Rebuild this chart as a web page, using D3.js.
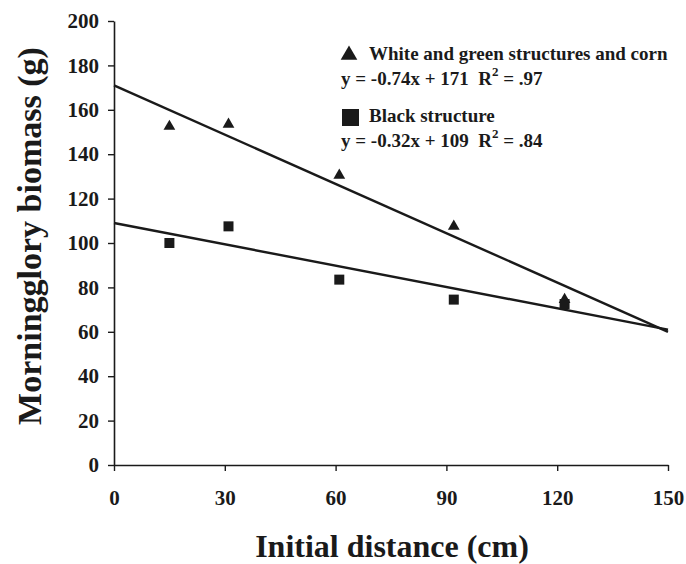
<!DOCTYPE html>
<html>
<head>
<meta charset="utf-8">
<script src="https://cdn.jsdelivr.net/npm/d3@7"></script>
<style>
  body { margin: 0; background: #fff; }
  svg text { font-family: "Liberation Serif", "Times New Roman", serif; font-weight: bold; fill: #1a1a1a; white-space: pre; }
</style>
</head>
<body>
<div id="chart-area"></div>
<script>
// data
var distances = [15, 31, 61, 92, 122];
var whiteGreen = [152.5, 153.5, 130.5, 107.5, 74.5];
var black = [100, 107.5, 83.5, 74.5, 72.5];
var xTicks = [0, 30, 60, 90, 120, 150];
var yTicks = [0, 20, 40, 60, 80, 100, 120, 140, 160, 180, 200];
// fitted lines: slope, intercept
var fitWhite = [-0.74, 171];
var fitBlack = [-0.32, 109];
var legendLabels = ['White and green structures and corn', 'Black structure'];
var legendEq = ['y = -0.74x + 171  R', 'y = -0.32x + 109  R'];
var legendR2 = [' = .97', ' = .84'];

var width = 686, height = 564;
var ink = '#1a1a1a';

var svg = d3.select('#chart-area').append('svg')
  .attr('width', width)
  .attr('height', height);

var x = d3.scaleLinear().domain([0, 150]).range([114, 668]);
var y = d3.scaleLinear().domain([0, 200]).range([465, 21]);

// axes
var xAxis = svg.append('g')
  .attr('transform', 'translate(0,' + y(0) + ')')
  .call(d3.axisBottom(x).tickValues(xTicks).tickSize(6).tickSizeOuter(0).tickPadding(19));
var yAxis = svg.append('g')
  .attr('transform', 'translate(' + x(0) + ',0)')
  .call(d3.axisLeft(y).tickValues(yTicks).tickSize(6).tickSizeOuter(0).tickPadding(9));

[xAxis, yAxis].forEach(a => {
  a.select('.domain').attr('stroke', ink).attr('stroke-width', 1.6);
  a.selectAll('.tick line').attr('stroke', ink).attr('stroke-width', 1.4);
  a.selectAll('.tick text').attr('fill', ink).style('font-size', '21px');
});

// axis titles
svg.append('text')
  .attr('x', 392).attr('y', 557)
  .attr('text-anchor', 'middle')
  .style('font-size', '32px')
  .text('Initial distance (cm)');
svg.append('text')
  .attr('transform', 'translate(41,236) rotate(-90)')
  .attr('text-anchor', 'middle')
  .style('font-size', '34px')
  .text('Morningglory biomass (g)');

// regression lines
var line = d3.line().x(d => x(d[0])).y(d => y(d[1]));
[fitWhite, fitBlack].forEach(f => {
  svg.append('path')
    .attr('fill', 'none')
    .attr('stroke', ink)
    .attr('stroke-width', 2.4)
    .attr('d', line([[0, f[1]], [150, f[0] * 150 + f[1]]]));
});

// points
var tri = d3.symbol().type(d3.symbolTriangle).size(60);
svg.selectAll('rect.pt')
  .data(distances)
  .join('rect')
  .attr('class', 'pt')
  .attr('x', (d, i) => x(d) - 5)
  .attr('y', (d, i) => y(black[i]) - 5)
  .attr('width', 10).attr('height', 10)
  .attr('fill', ink);
svg.selectAll('path.tri')
  .data(distances)
  .join('path')
  .attr('class', 'tri')
  .attr('transform', (d, i) => 'translate(' + x(d) + ',' + y(whiteGreen[i]) + ')')
  .attr('d', tri)
  .attr('fill', ink);

// legend
var leg = svg.append('g');
leg.append('path')
  .attr('transform', 'translate(349,55)')
  .attr('d', d3.symbol().type(d3.symbolTriangle).size(120))
  .attr('fill', ink);
leg.append('rect')
  .attr('x', 342).attr('y', 109).attr('width', 17).attr('height', 17)
  .attr('fill', ink);
[0, 1].forEach(i => {
  var y0 = 60 + i * 62;
  leg.append('text')
    .attr('x', 369).attr('y', y0)
    .style('font-size', '19px')
    .text(legendLabels[i]);
  var t = leg.append('text')
    .attr('x', 341).attr('y', y0 + 25)
    .style('font-size', '19px');
  t.append('tspan').text(legendEq[i]);
  t.append('tspan').attr('dy', -9).style('font-size', '13px').text('2');
  t.append('tspan').attr('dy', 9).text(legendR2[i]);
});
</script>
</body>
</html>
